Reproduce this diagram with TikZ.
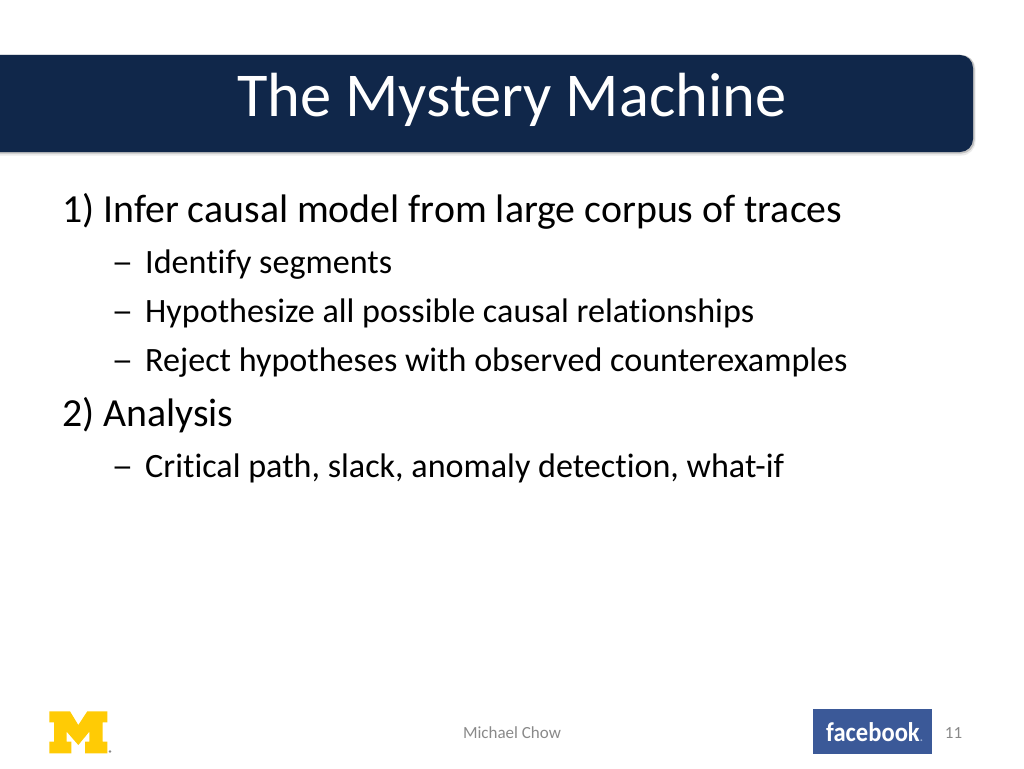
\documentclass[tikz,border=0pt]{standalone}
\usepackage{fontspec}
\setmainfont[Ligatures=NoCommon]{Carlito}
\usepackage{tikz}
\usetikzlibrary{positioning}
\definecolor{bannerblue}{HTML}{10274A}
\definecolor{fbblue}{HTML}{3B5998}
\definecolor{fbdot}{HTML}{9DB0D3}
\definecolor{mgold}{HTML}{FFCB05}
\definecolor{footgray}{HTML}{898989}
\newcommand{\subdash}{\scalebox{1.28}[1]{–}}
\tikzstyle{every node}+=[inner sep=0pt]
\tikzstyle{banner} = [fill=bannerblue, rounded corners=13pt]
\tikzstyle{title} = [anchor=base west, white, font=\fontsize{62.4}{62}\selectfont]
\tikzstyle{main} = [anchor=base west, black, font=\fontsize{39.8}{40}\selectfont]
\tikzstyle{dashmark} = [anchor=base west, black, font=\fontsize{34}{34}\selectfont]
\tikzstyle{sub} = [anchor=base west, black, font=\fontsize{34.1}{34}\selectfont]
\tikzstyle{foot} = [anchor=base, footgray, font=\fontsize{17}{17}\selectfont]

\begin{document}
\begin{tikzpicture}[x=1pt, y=-1pt]
  \useasboundingbox (0,0) rectangle (1024,768);
  % Banner
  \fill [black, opacity=0.08, rounded corners=14pt] (-20,55) rectangle (975.5,155.5);
  \fill [black, opacity=0.18, rounded corners=13pt] (-20,55) rectangle (974.5,153.5);
  \fill [banner] (-20,55) rectangle (973,152);
  \node [title] (heading) at (237,116.5) {The Mystery Machine};
  % Place text
  \node [main] (infer) at (62,222) {1) Infer causal model from large corpus of traces};
  \node [dashmark] (d1) at (111.5,273) {\subdash};
  \node [sub] (segments) at (145,273) {Identify segments};
  \node [dashmark] (d2) at (111.5,322) {\subdash};
  \node [sub] (hypo) at (145,322) {Hypothesize all possible causal relationships};
  \node [dashmark] (d3) at (111.5,371) {\subdash};
  \node [sub] (reject) at (145,371) {Reject hypotheses with observed counterexamples};
  \node [main] (analysis) at (62,426) {2) Analysis};
  \node [dashmark] (d4) at (111.5,477) {\subdash};
  \node [sub] (critical) at (145,477) {Critical path, slack, anomaly detection, what-if};
  % Footer
  \node [foot] (author) at (512,738) {Michael Chow};
  \node [foot] (page) at (953.5,738) {11};
  \fill [mgold] (49.3,711.3) -- (70,711.3) -- (78.3,725) -- (87.3,711.3) -- (107.3,711.3)
    -- (107.3,722.3) -- (102.7,722.3) -- (102.7,741.7) -- (107.3,741.7) -- (107.3,753.3)
    -- (85,753.3) -- (85,741.7) -- (89.3,741.7) -- (89.3,731.7) -- (78.3,745) -- (66.7,731.7)
    -- (66.7,741.7) -- (71.3,741.7) -- (71.3,753.3) -- (49.3,753.3) -- (49.3,741.7)
    -- (54,741.7) -- (54,722.3) -- (49.3,722.3) -- cycle;
  \fill [footgray] (110,751.5) circle (1.3pt);
  \node [rectangle, fill=fbblue, minimum width=119pt, minimum height=45pt] (fbbox) at (872.5,731.5) {};
  \node [anchor=base west, white, font=\fontsize{27}{27}\selectfont\bfseries] (fbtext) at (826,741)
    {\scalebox{0.91}[1]{facebook}\textcolor{fbdot}{\fontsize{12}{12}\selectfont.}};
\end{tikzpicture}
\end{document}
